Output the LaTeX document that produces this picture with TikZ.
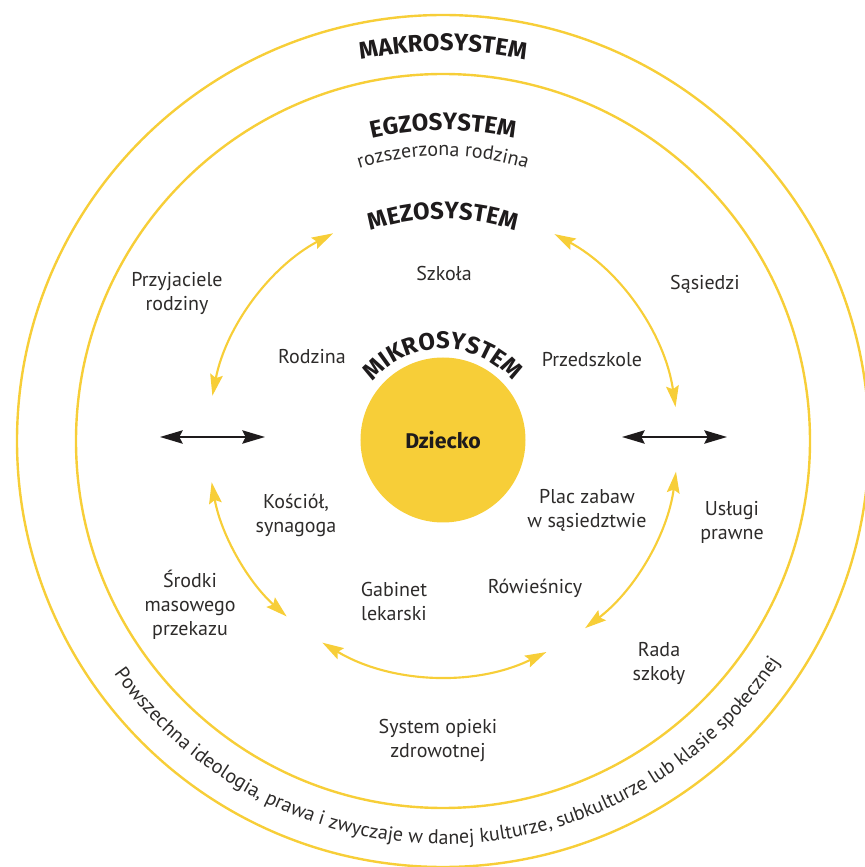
\documentclass[tikz,border=0pt]{standalone}
\usepackage{fontspec}
\setmainfont{PT Sans}
\newfontfamily\headfont{Fira Sans}
\usetikzlibrary{arrows.meta,decorations.text}
\definecolor{gold}{RGB}{247,206,56}
\definecolor{ink}{RGB}{30,27,28}
\definecolor{txt}{RGB}{45,43,42}

\begin{document}
\begin{tikzpicture}[x=0.75pt,y=0.75pt,
  ring/.style={draw=gold, line width=1.8pt},
  child/.style={circle, fill=gold, minimum size=123.75pt, inner sep=0pt,
    text=ink, font=\headfont\bfseries\fontsize{16}{19}\selectfont},
  lbl/.style={align=center, text=txt, inner sep=0pt,
    font=\fontsize{15}{18}\selectfont},
  yarrow/.style={draw=gold, line width=1.6pt,
    {Stealth[length=16pt,width=9.5pt,inset=2.5pt]}-{Stealth[length=16pt,width=9.5pt,inset=2.5pt]}},
  karrow/.style={draw=ink, line width=1.4pt,
    {Stealth[length=17pt,width=10pt,inset=2.5pt]}-{Stealth[length=17pt,width=10pt,inset=2.5pt]}},
  heading/.style={decorate, decoration={text along path, text align=center,
    text color=ink, text={|\headfont\bfseries\fontsize{18}{20}\selectfont|#1}}},
  curvedlbl/.style={decorate, decoration={text along path, text align=center,
    text color=txt, text={|\fontsize{15}{18}\selectfont|#1}}},
]
\useasboundingbox (-443,-426) rectangle (421,441);

% system rings
\coordinate (c) at (0,0);
\draw[ring] (c) circle[radius=426];
\draw[ring] (c) circle[radius=367];

% the child in the middle
\node[child] (kid) at (0,1) {Dziecko};

% ring headings
\path[heading=MAKROSYSTEM] (150:390) arc[start angle=150, end angle=30, radius=390];
\path[heading=EGZOSYSTEM] (145:311) arc[start angle=145, end angle=35, radius=311];
\path[curvedlbl=rozszerzona rodzina] (140:285) arc[start angle=140, end angle=40, radius=285];
\path[heading=MEZOSYSTEM] (140:222) arc[start angle=140, end angle=40, radius=222];
\path[heading=MIKROSYSTEM] ([shift={(175:91)}]kid.center) arc[start angle=175, end angle=5, radius=91];
\path[curvedlbl={Powszechna ideologia, prawa i zwyczaje w danej kulturze, subkulturze lub klasie społecznej}]
  (198:403) arc[start angle=198, end angle=344, radius=403];

% mesosystem links
\coordinate (tlA) at (168.9:235); \coordinate (tlB) at (117.9:235);
\coordinate (trA) at (61.7:235);  \coordinate (trB) at (8.3:235);
\coordinate (blA) at (190.1:235); \coordinate (blB) at (228.3:235);
\coordinate (bmA) at (239.1:235); \coordinate (bmB) at (296.1:235);
\coordinate (brA) at (307.2:235); \coordinate (brB) at (352.5:235);
\draw[yarrow] (tlA) arc[start angle=168.9, end angle=117.9, radius=235];
\draw[yarrow] (trA) arc[start angle=61.7, end angle=8.3, radius=235];
\draw[yarrow] (blA) arc[start angle=190.1, end angle=228.3, radius=235];
\draw[yarrow] (bmA) arc[start angle=239.1, end angle=296.1, radius=235];
\draw[yarrow] (brA) arc[start angle=307.2, end angle=352.5, radius=235];

% exosystem links
\coordinate (lA) at (-283,4); \coordinate (lB) at (-178,4);
\coordinate (rA) at (179,4);  \coordinate (rB) at (284,4);
\draw[karrow] (lA) -- (lB);
\draw[karrow] (rA) -- (rB);

% settings
\node[lbl] (szkola) at (1,167) {Szkoła};
\node[lbl] (przyj) at (-266,148) {Przyjaciele\\rodziny};
\node[lbl] (sasiedzi) at (262,157) {Sąsiedzi};
\node[lbl] (rodzina) at (-131,84) {Rodzina};
\node[lbl] (przedszkole) at (149,81) {Przedszkole};
\node[lbl] (kosciol) at (-147,-74) {Kościół,\\synagoga};
\node[lbl] (plac) at (144,-69) {Plac zabaw\\w sąsiedztwie};
\node[lbl] (uslugi) at (289,-81) {Usługi\\prawne};
\node[lbl] (srodki) at (-253,-164) {Środki\\masowego\\przekazu};
\node[lbl] (gabinet) at (-49,-160) {Gabinet\\lekarski};
\node[lbl] (rowiesnicy) at (92,-147) {Rówieśnicy};
\node[lbl] (rada) at (216,-222) {Rada\\szkoły};
\node[lbl] (opieka) at (-5,-299) {System opieki\\zdrowotnej};
\end{tikzpicture}
\end{document}
